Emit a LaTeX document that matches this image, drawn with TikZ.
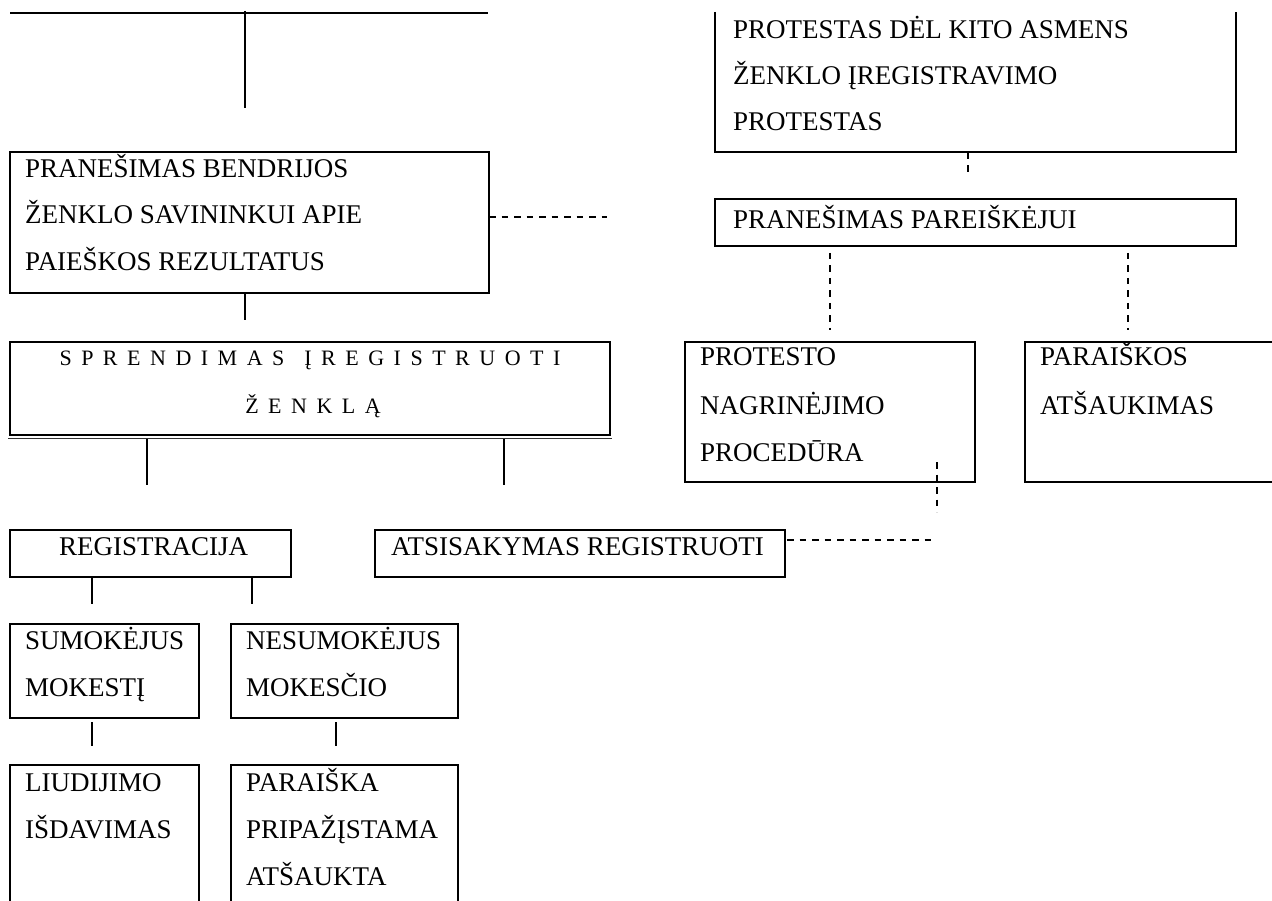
\documentclass[tikz,border=0pt]{standalone}
\usepackage{fontspec}
\setmainfont{Liberation Serif}
\newcommand\lk{\kern9.5pt}
\newcommand\lw{\kern20pt}
\begin{document}
\begin{tikzpicture}[x=1pt,y=-1pt,
  box/.style={draw, line width=2.2pt, inner sep=0pt, outer sep=0pt, anchor=north west},
  openbox/.style={inner sep=0pt, outer sep=0pt, anchor=north west},
  boxline/.style={line width=2.2pt},
  txt/.style={anchor=base west, inner sep=0pt, font=\fontsize{27}{31}\selectfont},
  sptxt/.style={anchor=base, inner sep=0pt, font=\fontsize{22}{26}\selectfont},
  conn/.style={line width=1.6pt},
  dconn/.style={line width=1.9pt, dash pattern=on 6.5pt off 6pt}]
\useasboundingbox (0,0) rectangle (1272,901);

% ---------- boxes ----------
\node[openbox, minimum width=521pt, minimum height=140pt] (p1) at (715,12) {};
\draw[boxline] (p1.north west) -- (p1.south west) -- (p1.south east) -- (p1.north east);
\node[box, minimum width=479pt, minimum height=141pt] (b2) at (10,152) {};
\node[box, minimum width=521pt, minimum height=47pt] (p2) at (715,199) {};
\node[box, minimum width=600pt, minimum height=93pt] (b3) at (10,342) {};
\draw[line width=1pt, black!80] ([xshift=-2pt,yshift=-3.5pt]b3.south west) -- ([xshift=2pt,yshift=-3.5pt]b3.south east);
\node[box, minimum width=290pt, minimum height=140pt] (p3) at (685,342) {};
\node[box, minimum width=280pt, minimum height=140pt] (p4) at (1025,342) {};
\node[box, minimum width=281pt, minimum height=47pt] (b4) at (10,530) {};
\node[box, minimum width=410pt, minimum height=47pt] (b5) at (375,530) {};
\node[box, minimum width=189pt, minimum height=94pt] (b6) at (10,624) {};
\node[box, minimum width=227pt, minimum height=94pt] (b7) at (231,624) {};
\node[box, minimum width=189pt, minimum height=160pt] (b8) at (10,765) {};
\node[box, minimum width=227pt, minimum height=160pt] (b9) at (231,765) {};

% ---------- texts ----------
\node[txt] (t1a) at (733,39) {PROTESTAS DĖL KITO ASMENS};
\node[txt] (t1b) at (733,85) {ŽENKLO ĮREGISTRAVIMO};
\node[txt] (t1c) at (733,131) {PROTESTAS};
\node[txt] (t2a) at (25,178) {PRANEŠIMAS BENDRIJOS};
\node[txt] (t2b) at (25,224) {ŽENKLO SAVININKUI APIE};
\node[txt] (t2c) at (25,271) {PAIEŠKOS REZULTATUS};
\node[txt] (t3) at (733,229) {PRANEŠIMAS PAREIŠKĖJUI};
\node[sptxt] (t4a) at (310,366) {S\lk P\lk R\lk E\lk N\lk D\lk I\lk M\lk A\lk S\lw Į\lk R\lk E\lk G\lk I\lk S\lk T\lk R\lk U\lk O\lk T\lk I};
\node[sptxt] (t4b) at (313,413) {Ž\lk E\lk N\lk K\lk L\lk Ą};
\node[txt] (t5a) at (700,366) {PROTESTO};
\node[txt] (t5b) at (700,414) {NAGRINĖJIMO};
\node[txt] (t5c) at (700,461) {PROCEDŪRA};
\node[txt] (t6a) at (1040,366) {PARAIŠKOS};
\node[txt] (t6b) at (1040,414) {ATŠAUKIMAS};
\node[txt] (t7) at (59,555) {REGISTRACIJA};
\node[txt] (t8) at (391,555) {ATSISAKYMAS REGISTRUOTI};
\node[txt] (t9a) at (25,649) {SUMOKĖJUS};
\node[txt] (t9b) at (25,696) {MOKESTĮ};
\node[txt] (t10a) at (246,649) {NESUMOKĖJUS};
\node[txt] (t10b) at (246,696) {MOKESČIO};
\node[txt] (t11a) at (25,791) {LIUDIJIMO};
\node[txt] (t11b) at (25,838) {IŠDAVIMAS};
\node[txt] (t12a) at (246,791) {PARAIŠKA};
\node[txt] (t12b) at (246,838) {PRIPAŽĮSTAMA};
\node[txt] (t12c) at (246,885) {ATŠAUKTA};

% ---------- free ends ----------
\coordinate (h1) at (10,13);
\coordinate (h2) at (488,13);
\coordinate (v1a) at (245,11);
\coordinate (v1b) at (245,108);
\coordinate (c2) at (245,320);
\coordinate (d1) at (607,217);
\coordinate (d2a) at (968,153);
\coordinate (d2b) at (968,177);
\coordinate (d3a) at (830,253);
\coordinate (d3b) at (830,330);
\coordinate (d4a) at (1128,253);
\coordinate (d4b) at (1128,330);
\coordinate (c3) at (147,485);
\coordinate (c4) at (504,485);
\coordinate (d5a) at (937,462);
\coordinate (d5b) at (937,512);
\coordinate (d6) at (932,540);
\coordinate (c5) at (92,604);
\coordinate (c6) at (252,604);
\coordinate (c7) at (92,746);
\coordinate (c8) at (336,746);

% ---------- connectors ----------
\draw[line width=2.2pt] (h1) -- (h2);
\draw[conn] (v1a) -- (v1b);
\draw[conn] (c2 |- b2.south) -- (c2);
\draw[dconn] (b2.east |- d1) -- (d1);
\draw[dconn] (d2a) -- (d2b);
\draw[dconn] (d3a) -- (d3b);
\draw[dconn] (d4a) -- (d4b);
\draw[conn] ([yshift=-4pt]c3 |- b3.south) -- (c3);
\draw[conn] ([yshift=-4pt]c4 |- b3.south) -- (c4);
\draw[dconn] (d5a) -- (d5b);
\draw[dconn] ([xshift=2pt]b5.east |- d6) -- (d6);
\draw[conn] ([yshift=-1pt]c5 |- b4.south) -- (c5);
\draw[conn] ([yshift=-1pt]c6 |- b4.south) -- (c6);
\draw[conn] ([yshift=-4pt]c7 |- b6.south) -- (c7);
\draw[conn] ([yshift=-4pt]c8 |- b7.south) -- (c8);
\end{tikzpicture}
\end{document}
